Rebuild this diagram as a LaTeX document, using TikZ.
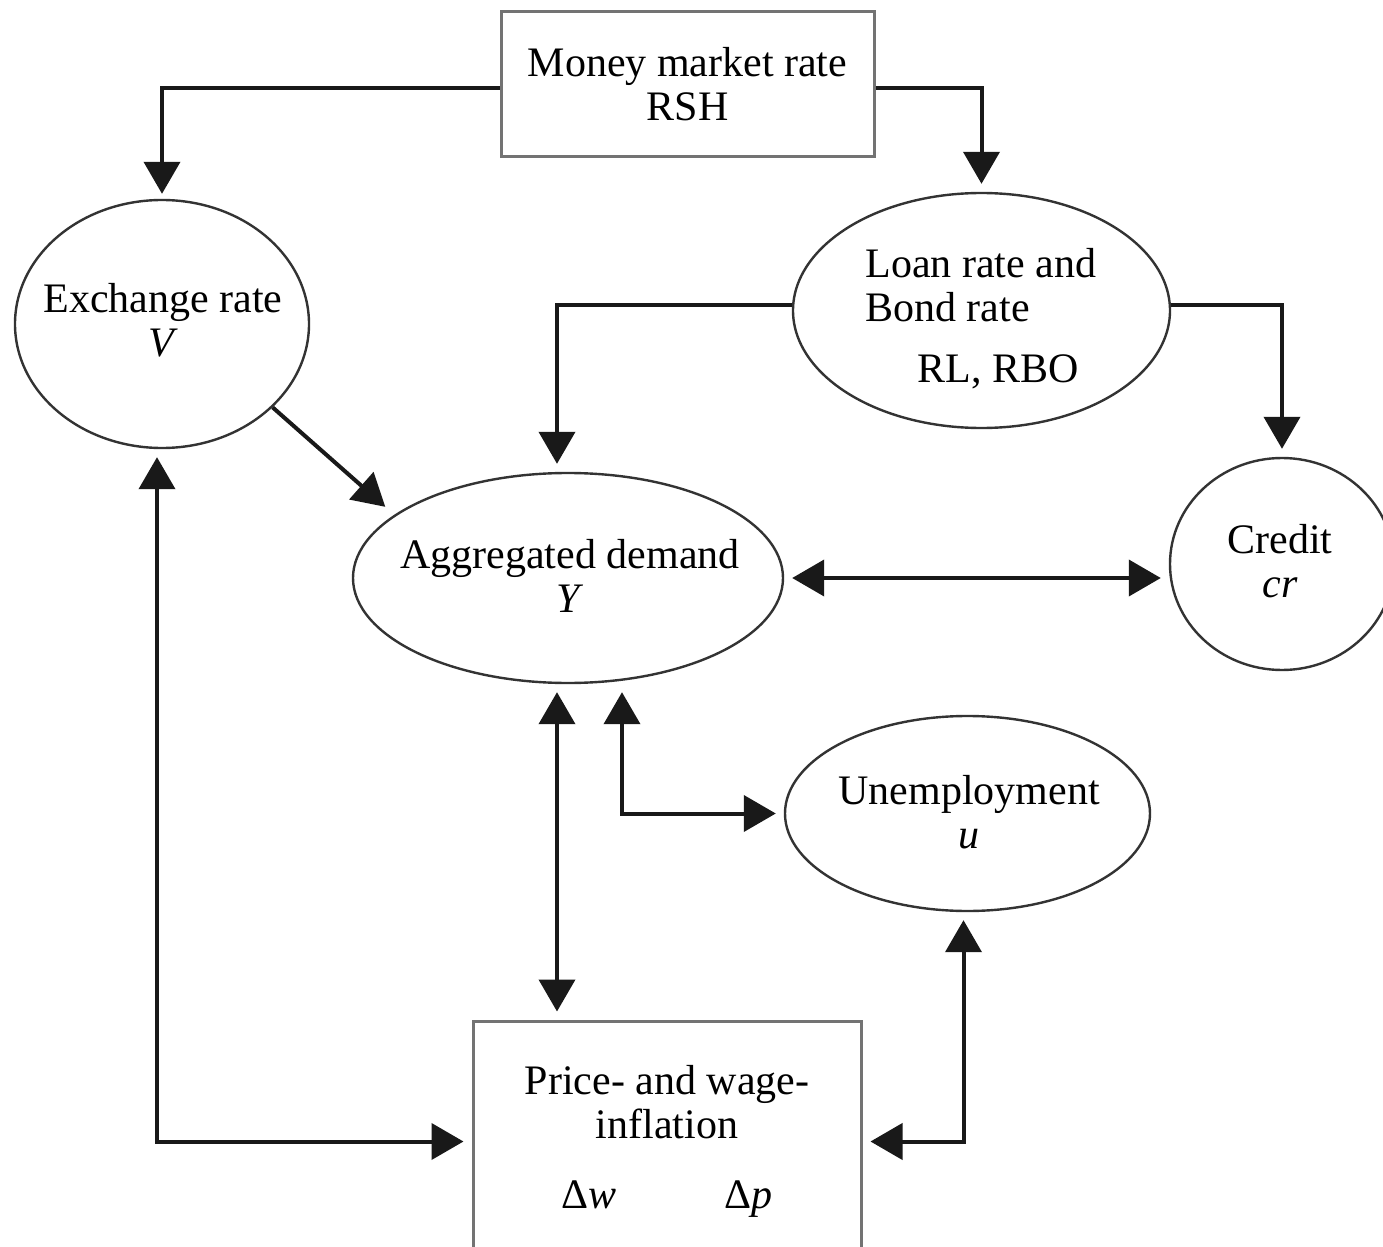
\documentclass[tikz,border=0pt]{standalone}
\usepackage{fontspec}
\setmainfont{Liberation Serif}
\usetikzlibrary{arrows.meta,shapes.geometric,calc}
\newcommand\txtfont{\fontsize{21}{22}\selectfont}

\begin{document}
\begin{tikzpicture}[x=0.5pt,y=-0.5pt,
  box/.style={draw=black!55,line width=1.5pt,rectangle,inner sep=0pt,font=\txtfont,align=center},
  oval/.style={draw=black!80,line width=1.2pt,ellipse,inner sep=0pt},
  txt/.style={inner sep=0pt,font=\txtfont,align=center},
  link/.style={line width=2pt,black!90},
  tip/.style={-{Triangle[length=16pt,width=18pt]},shorten >=4pt},
  both/.style={{Triangle[length=16pt,width=18pt]}-{Triangle[length=16pt,width=18pt]},shorten >=4pt,shorten <=4pt}
]
\useasboundingbox (0,0) rectangle (1383,1247);
\clip (0,0) rectangle (1383,1247);
\fill[white] (0,0) rectangle (1383,1247);

% shapes
\node[box,minimum width=186.5pt,minimum height=72.5pt] (money) at (687.5,84.5) {Money market rate\\RSH};
\node[oval,minimum width=147pt,minimum height=124pt] (exch) at (162,324) {};
\node[oval,minimum width=188.5pt,minimum height=117.5pt] (loan) at (981.5,310.5) {};
\node[oval,minimum width=215pt,minimum height=105pt] (ad) at (568,578) {};
\node[oval,minimum width=112pt,minimum height=106pt] (credit) at (1282,564) {};
\node[oval,minimum width=182.5pt,minimum height=97.5pt] (unemp) at (967.5,813.5) {};
\node[box,minimum width=194pt,minimum height=120.5pt] (price) at (667,1141.5)
  {Price- and wage-\\inflation\\[13pt]Δ\textit{w}\hspace{54pt}Δ\textit{p}};

% labels inside the ellipses
\node[txt] (exchtxt) at (163,320.5) {Exchange rate\\\textit{V}};
\node[txt,anchor=north west,align=left] (loantxt) at (865,248.3)
  {Loan rate and\\Bond rate\\[8.5pt]\hspace*{26pt}RL, RBO};
\node[txt] (adtxt) at (570,576) {Aggregated demand\\\textit{Y}};
\node[txt] (credittxt) at (1280,561) {Credit\\\textit{cr}};
\node[txt] (unemptxt) at (969,812) {Unemployment\\\textit{u}};

% connectors
\draw[link,tip,shorten >=2.5pt] ([yshift=-1.75pt]money.west) -| (exch.north);
\draw[link,tip] ([yshift=-1.75pt]money.east) -| (loan.north);
\draw[link,tip] ([yshift=2.75pt]loan.west) -| ([xshift=-5.5pt]ad.north);
\draw[link,tip] ([yshift=2.75pt]loan.east) -| (credit.north);
\draw[link,tip,shorten >=6pt] (exch.-37) -- (ad.160.5);
\draw[link,both] (ad.east) -- (ad.east -| credit.west);
\draw[link,both] ([xshift=-5.5pt]ad.south) -- ([xshift=-5.5pt]ad.south |- price.north);
\draw[link,both] ([xshift=27pt]ad.south) |- (unemp.west);
\draw[link,both] ([xshift=-2pt]unemp.south) |- (price.east);
\draw[link,both] ([xshift=-2.5pt]exch.south) |- (price.west);
\end{tikzpicture}
\end{document}
